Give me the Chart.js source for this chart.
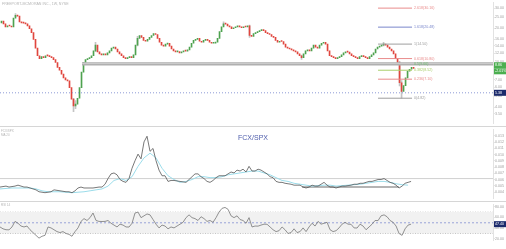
<!DOCTYPE html>
<html><head><meta charset="utf-8">
<script src="https://cdn.jsdelivr.net/npm/chart.js@4/dist/chart.umd.min.js"></script>
<style>
html,body{margin:0;padding:0;background:#fff;}
#wrap{position:relative;width:506px;height:249px;overflow:hidden;}
canvas{position:absolute;left:0;}
.sep{position:absolute;left:0;width:506px;height:1px;background:#d6d6d6;}
</style></head><body>
<div id="wrap">
<canvas id="c1" width="506" height="126" style="top:0px"></canvas>
<div class="sep" style="top:126px"></div>
<canvas id="c2" width="506" height="74" style="top:127px"></canvas>
<div class="sep" style="top:201px"></div>
<canvas id="c3" width="506" height="47" style="top:202px"></canvas>
</div>
<script>
// ---------- time axis ----------
const T0 = 2015.125, T1 = 2021.385;
const tickDates  = [2015.25,2015.5,2015.75,2016,2016.25,2016.5,2016.75,2017,2017.25,2017.5,2017.75,2018,2018.25,2018.5,2018.75,2019,2019.25,2019.5,2019.75,2020,2020.25,2020.5,2020.75,2021,2021.25];
const tickLabels = ['Apr','Jul','Oct','2016','Apr','Jul','Oct','2017','Apr','Jul','Oct','2018','Apr','Jul','Oct','2019','Apr','Jul','Oct','2020','Apr','Jul','Oct','2021','Apr'];

// ---------- price pane (candles) ----------
const candleStart = 2015.144, candleStep = 0.0254;
const firstOpen = 22.3;
const closes = [23.20,21.87,20.62,21.03,20.95,20.55,24.61,26.10,25.59,22.75,
 22.30,22.25,21.87,21.03,19.82,18.33,15.97,13.38,11.44,10.78,
 11.22,11.00,11.44,11.40,11.22,11.00,10.57,9.97,9.04,8.52,
 7.88,7.28,7.00,6.86,5.98,4.73,4.12,4.28,4.82,5.98,
 8.19,9.97,10.57,10.78,11.00,11.44,12.62,14.20,12.37,11.90,
 11.66,11.90,11.66,12.13,12.62,13.38,13.65,13.12,12.37,11.90,
 11.44,11.00,10.78,11.00,11.22,11.00,11.66,14.20,16.29,17.28,
 16.61,15.66,15.36,15.97,16.61,17.28,17.97,17.62,16.29,15.06,
 14.20,13.92,14.48,14.76,13.92,13.12,12.62,12.37,12.45,12.13,
 12.37,12.62,12.58,12.87,13.65,14.76,15.66,15.97,16.29,15.36,
 15.06,15.66,15.97,15.66,15.06,14.76,14.80,15.06,16.29,18.69,
 20.62,21.87,21.80,21.03,20.62,19.82,20.22,20.62,21.03,20.62,
 20.22,20.62,20.55,21.03,17.28,16.94,17.97,18.33,18.69,19.06,
 19.44,19.06,18.33,17.97,17.62,16.94,16.61,15.66,15.06,15.36,
 15.30,14.48,13.65,13.38,13.12,12.87,12.62,12.37,11.90,11.44,
 11.00,11.90,12.62,12.87,12.62,13.38,14.20,13.65,13.38,14.20,
 14.76,15.06,14.48,12.62,11.44,11.22,11.00,10.78,11.00,11.22,
 11.66,12.13,12.37,12.30,11.90,11.44,11.22,11.00,10.78,11.22,
 11.44,11.22,11.00,10.78,11.22,11.66,12.13,13.12,13.65,13.92,
 14.20,14.48,14.20,13.65,13.12,12.62,11.90,10.78,9.97,6.60,
 5.53,6.22,7.28,8.35,8.69,9.04,8.86];
// [candle index, low, high] for the visible wicks
const wicks = [[7,25.3,27.0],[36,3.66,4.80],[37,3.90,4.60],[47,12.4,15.0],[68,14.0,17.0],[111,21.2,22.8],[124,16.6,21.3],[150,10.6,11.6],[191,14.0,15.0],[199,6.2,10.2],[200,4.82,6.9]];
const priceTicks = [30,25,20,16,14,12,10,8,7,6,5,4,3.5];
const zoneTop = 9.90, zoneBottom = 9.52, zoneFrom = 2016.166;
const supportLevel = 5.38;
const fibLevels = ['0','0.236','0.382','0.5','0.618','1','1.618','2.618'];
const fibPrices = [4.82,7.10,8.52,9.66,10.80,14.50,20.48,30.16];
const fibFrom = 2019.925, fibTo = 2020.357;

// ---------- FCX/SPX pane ----------
const ratioStart = 2015.125, ratioStep = 0.0381;
const ratio = [.004808,.004884,.004959,.004808,.004884,.004959,.005110,.004959,.004808,.004808,
 .004657,.004507,.004356,.004055,.003979,.003904,.003979,.004055,.004356,.004281,
 .004205,.004130,.004055,.004055,.003904,.004205,.004657,.004808,.004657,.004657,
 .004657,.004657,.004733,.004808,.004808,.005260,.006164,.006918,.007068,.006767,
 .006014,.005712,.005562,.006164,.007822,.009027,.010082,.009329,.012041,.012945,
 .010534,.010986,.009027,.007520,.006616,.006616,.005712,.005863,.005863,.005788,
 .005712,.005637,.005562,.006014,.006466,.006918,.006918,.006466,.006164,.005712,
 .005562,.005863,.006315,.006616,.006616,.006616,.006918,.007219,.007068,.007520,
 .007370,.007671,.007219,.008123,.007370,.007370,.007671,.007520,.007219,.006918,
 .006466,.006315,.005712,.005562,.005562,.005411,.005335,.005260,.005110,.005110,
 .005110,.004808,.004657,.004808,.005110,.004959,.004959,.005260,.005562,.005110,
 .004808,.004808,.004657,.004808,.004959,.004959,.005034,.005110,.005260,.005260,
 .005411,.005411,.005562,.005712,.005712,.005863,.006014,.006014,.006164,.005863,
 .005562,.005411,.005110,.004657,.004959,.005411,.005562,.005712];
const maStep = 0.0762;
const ratioMA = [.004507,.004582,.004657,.004657,.004657,.004657,.004507,.004205,.004055,.004055,
 .004055,.003979,.003904,.003979,.004055,.004205,.004356,.004507,.004959,.005863,
 .006164,.005863,.006466,.008123,.009479,.010233,.009479,.007822,.006616,.006014,
 .005562,.005712,.006014,.006466,.006466,.006315,.006315,.006466,.006767,.006918,
 .007068,.007219,.007370,.007370,.007068,.006767,.006315,.005863,.005712,.005411,
 .005260,.005110,.004959,.005034,.005110,.005110,.004959,.005034,.005110,.005185,
 .005260,.005411,.005562,.005712,.005712,.005562,.005335,.005185,.005110];
const ratioLevel = 0.006164;
const ratioFloor = 0.004808, ratioFloorFrom = 2018.96, ratioFloorTo = 2020.19;
const ratioTicks = [0.013,0.012,0.011,0.010,0.009,0.008,0.007,0.006,0.005,0.004];

// ---------- RSI pane ----------
const rsiStart = 2015.125, rsiStep = 0.0381;
const rsi = [42.2,38.7,37.0,36.8,42.2,52.6,49.1,43.9,42.2,43.9,
 37.0,31.7,26.5,21.3,24.8,26.5,42.2,40.4,37.0,33.5,
 31.7,33.5,30.0,28.3,24.8,33.5,40.4,52.6,57.8,54.3,
 59.6,68.3,54.3,52.6,52.4,52.6,54.3,49.1,45.7,42.2,
 47.4,45.7,42.2,42.0,49.1,68.3,70.0,59.6,63.0,66.5,
 64.8,56.1,47.4,40.4,45.7,43.9,38.7,42.2,40.4,43.9,
 47.4,50.9,59.6,64.8,59.6,57.8,54.3,61.3,57.8,52.6,
 54.3,50.9,59.6,70.0,77.0,78.7,75.2,63.0,59.6,63.0,
 56.1,54.3,49.1,59.6,42.2,43.9,43.7,45.7,47.4,47.2,
 42.2,37.0,33.5,35.2,42.2,37.0,30.0,31.7,38.7,31.7,
 33.5,40.4,33.5,42.2,49.1,43.9,52.6,47.4,49.1,50.9,
 37.0,33.5,35.2,40.4,47.4,50.9,47.4,47.2,40.4,40.2,
 47.4,43.9,37.0,42.2,47.4,54.3,54.1,63.0,64.8,61.3,
 54.3,50.9,43.9,30.0,26.5,38.7,45.7,47.4];
const rsiTicks = [80,70,60,50,40,30,20];
const rsiUpper = 70, rsiMid = 50, rsiLower = 30;

// ---------- build ----------
const tAt = (s, st, i) => s + st * i;
const candleBodies = [], candleColors = [];
closes.forEach((c, i) => {
  const o = i === 0 ? firstOpen : closes[i - 1];
  candleBodies.push({x: tAt(candleStart, candleStep, i), y: [o, c]});
  candleColors.push(c >= o ? '#4ea24f' : '#e0463e');
});
const wickData = wicks.map(w => ({x: tAt(candleStart, candleStep, w[0]), y: [w[1], w[2]]}));
const seg = (a, b, v) => [{x: a, y: v}, {x: b, y: v}];
const fibColors = ['#9e9e9e','#e98b8b','#a9cf6b','#6fbf73','#e98b8b','#9e9e9e','#7986cb','#e98b8b'];
const lineDs = (data, color, extra) => Object.assign({type:'line', data, borderColor: color, borderWidth: 1, pointRadius: 0, fill: false, tension: 0, order: 0}, extra || {});

const FONT = '"Liberation Sans", Arial, sans-serif';
const xScale = (show) => {
  const s = {type:'linear', min: T0, max: T1, offset: false, display: show,
    grid: {display: false}, border: {display: false},
    afterBuildTicks: sc => { sc.ticks = tickDates.map(v => ({value: v})); },
    ticks: {autoSkip: false, maxRotation: 0, padding: 1, color: '#9a9a9a', font: {size: 4, family: FONT},
      callback: (v, i) => tickLabels[i]}};
  if (show) s.afterFit = sc => { sc.height = 9; };
  return s;
};
const yScale = (type, min, max, ticks, fmt) => ({type, position: 'right', min, max,
  afterBuildTicks: s => { s.ticks = ticks.map(v => ({value: v})); },
  afterFit: s => { s.width = 13; },
  grid: {display: true, drawOnChartArea: false, drawTicks: true, tickLength: 1.5, color: '#c8c8c8'},
  border: {display: true, color: '#e2e2e2'},
  ticks: {padding: 0.5, color: '#a0a0a0', font: {size: 3.6, family: FONT}, callback: fmt}
});
const baseOpts = {responsive: false, devicePixelRatio: 1, animation: false,
  plugins: {legend: {display: false}, tooltip: {enabled: false}}};

function badge(ctx, area, y, text, bg) {
  ctx.fillStyle = bg;
  ctx.fillRect(area.right + 1, y - 3, 12, 6);
  ctx.fillStyle = '#ffffff';
  ctx.font = '3.6px ' + FONT;
  ctx.textBaseline = 'middle';
  ctx.textAlign = 'left';
  ctx.fillText(text, area.right + 2, y + 0.2);
}

// chart 1 : price
const overlay1 = {id: 'overlay1', afterDatasetsDraw(chart) {
  const {ctx, chartArea, scales: {x, y}} = chart;
  ctx.save();
  ctx.textBaseline = 'middle'; ctx.textAlign = 'left';
  ctx.font = '3.6px ' + FONT;
  fibLevels.forEach((lv, k) => {
    ctx.fillStyle = fibColors[k];
    ctx.fillText(lv + '(' + fibPrices[k].toFixed(2) + ')', x.getPixelForValue(fibTo) + 2, y.getPixelForValue(fibPrices[k]));
  });
  ctx.fillStyle = '#b5b5b5';
  ctx.font = '3.6px ' + FONT;
  ctx.fillText('FREEPORT-MCMORAN INC., 1W, NYSE', 2, 4);
  const last = closes[closes.length - 1];
  badge(ctx, chartArea, y.getPixelForValue(last) - 3, last.toFixed(2), '#4caf50');
  badge(ctx, chartArea, y.getPixelForValue(last) + 3, '-2.01%', '#4caf50');
  badge(ctx, chartArea, y.getPixelForValue(supportLevel), supportLevel.toFixed(2), '#1b2a6b');
  ctx.restore();
}};
const ds1 = [
  {type:'bar', data: wickData, backgroundColor: '#c4c4c4', barThickness: 1, grouped: false, order: 3},
  {type:'bar', data: candleBodies, backgroundColor: candleColors, barThickness: 1, minBarLength: 1, grouped: false, order: 2},
  lineDs(seg(zoneFrom, T1, zoneTop), '#b0b0b0', {borderWidth: 1.3}),
  lineDs(seg(zoneFrom, T1, zoneBottom), '#b0b0b0', {borderWidth: 1.3, fill: '-1', backgroundColor: '#e4e4e4'}),
  lineDs(seg(T0, T1, supportLevel), '#8e9ad6', {borderDash: [1, 2]})
];
fibPrices.forEach((p, k) => ds1.push(lineDs(seg(fibFrom, fibTo, p), fibColors[k])));
new Chart(document.getElementById('c1'), {type: 'bar', data: {datasets: ds1},
  options: Object.assign({}, baseOpts, {layout: {padding: {top: 0, bottom: 1, left: 0, right: 0}},
    scales: {x: xScale(false), y: yScale('logarithmic', 2.89, 33.7, priceTicks, v => Number(v).toFixed(2))}}),
  plugins: [overlay1]});

// chart 2 : FCX/SPX
const overlay2 = {id: 'overlay2', afterDatasetsDraw(chart) {
  const {ctx} = chart;
  ctx.save();
  ctx.fillStyle = '#4d5cab';
  ctx.font = '7px ' + FONT;
  ctx.textAlign = 'center'; ctx.textBaseline = 'middle';
  ctx.fillText('FCX/SPX', 253, 11);
  ctx.fillStyle = '#b5b5b5'; ctx.font = '3px ' + FONT; ctx.textAlign = 'left';
  ctx.fillText('FCX/SPX', 1, 4); ctx.fillText('MA 20', 1, 8);
  ctx.restore();
}};
new Chart(document.getElementById('c2'), {type: 'line', data: {datasets: [
    lineDs(seg(T0, T1, ratioLevel), '#d0d0d0', {order: 3}),
    lineDs(seg(ratioFloorFrom, ratioFloorTo, ratioFloor), '#6b6b6b', {borderWidth: 1.1, order: 2}),
    lineDs(ratioMA.map((v, i) => ({x: tAt(ratioStart, maStep, i), y: v})), '#9bdcea', {order: 1}),
    lineDs(ratio.map((v, i) => ({x: tAt(ratioStart, ratioStep, i), y: v})), '#555555', {borderWidth: 0.8, order: 0})
  ]},
  options: Object.assign({}, baseOpts, {layout: {padding: 0},
    scales: {x: xScale(false), y: yScale('linear', 0.0030, 0.0140, ratioTicks, v => Number(v).toFixed(3))}}),
  plugins: [overlay2]});

// chart 3 : RSI
const overlay3 = {id: 'overlay3', afterDatasetsDraw(chart) {
  const {ctx, chartArea, scales: {y}} = chart;
  ctx.save();
  const last = rsi[rsi.length - 1];
  badge(ctx, chartArea, y.getPixelForValue(last), last.toFixed(2), '#1b2a6b');
  ctx.fillStyle = '#b5b5b5'; ctx.font = '3px ' + FONT; ctx.textBaseline = 'middle';
  ctx.fillText('RSI 14', 1, 3);
  ctx.restore();
}};
new Chart(document.getElementById('c3'), {type: 'line', data: {datasets: [
    lineDs(seg(T0, T1, rsiUpper), '#c6c6c6', {borderDash: [1, 1.5], order: 6}),
    lineDs(seg(T0, T1, rsiLower), '#c6c6c6', {borderDash: [1, 1.5], fill: '-1', backgroundColor: '#f1f1f1', order: 5}),
    lineDs(seg(T0, T1, rsiMid), '#9aa3d8', {borderDash: [2, 2], order: 4}),
    lineDs(rsi.map((v, i) => ({x: tAt(rsiStart, rsiStep, i), y: v})), '#777777', {borderWidth: 0.8, order: 0})
  ]},
  options: Object.assign({}, baseOpts, {layout: {padding: 0},
    scales: {x: xScale(true), y: yScale('linear', 17.8, 83.9, rsiTicks, v => Number(v).toFixed(2))}}),
  plugins: [overlay3]});
</script>
</body></html>
